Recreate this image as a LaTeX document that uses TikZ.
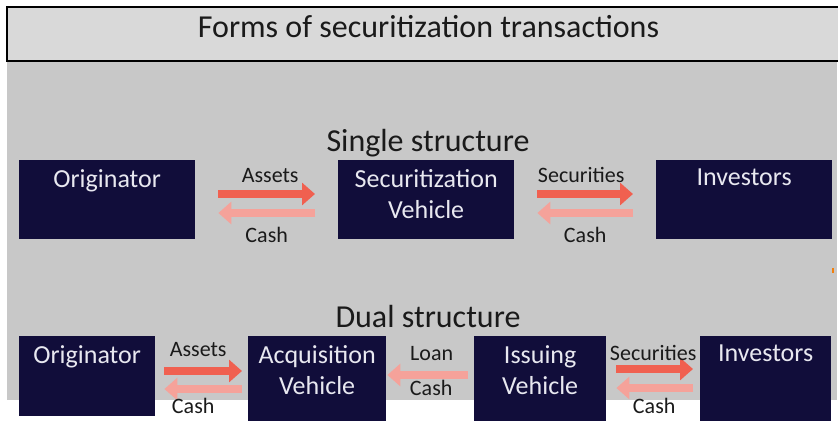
\documentclass[tikz,border=0pt]{standalone}
\usepackage{fontspec}
\setmainfont{Carlito}
\usetikzlibrary{arrows.meta}
\definecolor{boxnavy}{RGB}{17,13,58}
\definecolor{boxwhite}{RGB}{232,232,240}
\definecolor{panelgray}{RGB}{200,200,200}
\definecolor{titlegray}{RGB}{217,217,217}
\definecolor{arrowdark}{RGB}{240,96,80}
\definecolor{arrowlight}{RGB}{245,162,154}
\definecolor{labeltext}{RGB}{26,26,26}
\begin{document}
\begin{tikzpicture}[x=1pt,y=-1pt,
  box/.style={fill=boxnavy, draw=none, anchor=north west, inner sep=0pt},
  boxtext/.style={text=boxwhite, font=\fontsize{26}{31}\selectfont, align=center, inner sep=0pt, anchor=north},
  heading/.style={text=labeltext, font=\fontsize{32}{36}\selectfont, inner sep=0pt, anchor=base},
  fwd/.style={draw=arrowdark, line width=8.5pt, -{Triangle[length=13pt,width=22pt]}},
  back/.style={draw=arrowlight, line width=8.5pt, -{Triangle[length=13pt,width=22pt]}},
  lbl/.style={text=labeltext, font=\fontsize{22}{26}\selectfont, inner sep=0pt, anchor=base}]
\useasboundingbox (0,0) rectangle (838,422);

% panel and title bar
\fill[panelgray] (7,61) rectangle (837,400);
\draw[fill=titlegray, line width=2pt] (7,7) rectangle (850,61);
\node[heading] (title) at (428.5,38) {Forms of securitization transactions};
\fill[orange!80!brown] (832,268) rectangle (834,273);

% single structure
\node[heading] (single) at (428,152) {Single structure};
\node[box, minimum width=176pt, minimum height=79pt,
  label={[boxtext, yshift=-9pt]north:Originator}] (o1) at (19,160) {};
\node[box, minimum width=176pt, minimum height=79pt,
  label={[boxtext, yshift=-9pt]north:Securitization\\Vehicle}] (v1) at (338,160) {};
\node[box, minimum width=176pt, minimum height=79pt,
  label={[boxtext, yshift=-9pt]north:Investors}] (n1) at (656,160) {};

\draw[fwd, shorten <=23pt, shorten >=23pt] (o1.east |- 0,194) --
  node[lbl, xshift=3.5pt, yshift=11pt] {Assets} (v1.west |- 0,194);
\draw[back, shorten <=23pt, shorten >=23pt] (v1.west |- 0,213) --
  node[lbl, yshift=-30pt] {Cash} (o1.east |- 0,213);
\draw[fwd, shorten <=23pt, shorten >=23pt] (v1.east |- 0,194) --
  node[lbl, xshift=-4pt, yshift=11pt] {Securities} (n1.west |- 0,194);
\draw[back, shorten <=23pt, shorten >=23pt] (n1.west |- 0,213) --
  node[lbl, yshift=-30pt] {Cash} (v1.east |- 0,213);

% dual structure
\node[heading] (dual) at (428,327) {Dual structure};
\node[box, minimum width=136pt, minimum height=80pt,
  label={[boxtext, yshift=-9pt]north:Originator}] (o2) at (19,336) {};
\node[box, minimum width=138pt, minimum height=85pt,
  label={[boxtext, yshift=-9pt]north:Acquisition\\Vehicle}] (a2) at (248,336) {};
\node[box, minimum width=132pt, minimum height=85pt,
  label={[boxtext, yshift=-9pt]north:Issuing\\Vehicle}] (i2) at (474,336) {};
\node[box, minimum width=131pt, minimum height=85pt,
  label={[boxtext, yshift=-9pt]north:Investors}] (n2) at (700,336) {};

\draw[fwd, shorten <=9pt, shorten >=6pt] (o2.east |- 0,371) --
  node[lbl, xshift=-3.5pt, yshift=15pt] {Assets} (a2.west |- 0,371);
\draw[back, shorten <=6pt, shorten >=9pt] (a2.west |- 0,389) --
  node[lbl, xshift=-8.5pt, yshift=-24pt] {Cash} (o2.east |- 0,389);
\draw[back, shorten <=6pt, shorten >=1pt] (i2.west |- 0,375) --
  node[lbl, xshift=1.5pt, yshift=15pt] {Loan}
  node[lbl, xshift=1pt, yshift=-20pt] {Cash} (a2.east |- 0,375);
\draw[fwd, shorten <=10pt, shorten >=7pt] (i2.east |- 0,369) --
  node[lbl, yshift=9pt] {Securities} (n2.west |- 0,369);
\draw[back, shorten <=7pt, shorten >=10pt] (n2.west |- 0,388) --
  node[lbl, xshift=1pt, yshift=-25pt] {Cash} (i2.east |- 0,388);
\end{tikzpicture}
\end{document}
